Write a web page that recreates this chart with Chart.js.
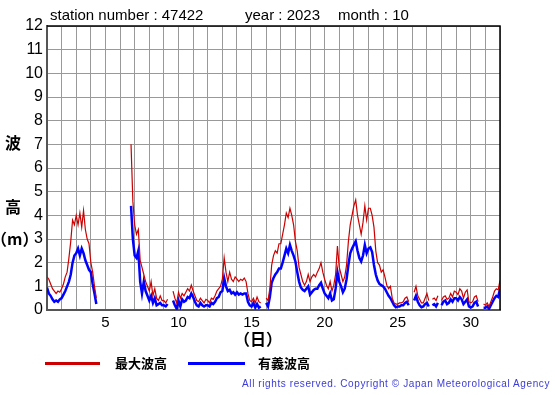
<!DOCTYPE html>
<html>
<head>
<meta charset="utf-8">
<script src="https://cdn.jsdelivr.net/npm/chart.js@4.4.0/dist/chart.umd.min.js"></script>
<style>
html, body { margin: 0; padding: 0; background: #fff; }
#wrap { position: relative; width: 555px; height: 395px; overflow: hidden; font-family: "Liberation Sans", Arial, sans-serif; }
#chart { position: absolute; left: 0; top: 0; }
.t { position: absolute; white-space: nowrap; color: #000; line-height: 1; }
.title { font-size: 15px; top: 7px; }
.jp { font-family: "Noto Sans CJK JP", sans-serif; font-weight: bold; font-size: 16px; }
.leg { font-family: "Noto Sans CJK JP", sans-serif; font-weight: bold; font-size: 13px; top: 356px; }
.swatch { position: absolute; height: 3px; top: 362px; }
#copy { right: 5px; top: 379px; font-size: 10px; letter-spacing: 0.6px; color: #3b3bd6; }
</style>
</head>
<body>
<div id="wrap">
  <canvas id="chart" width="555" height="395"></canvas>
  <div class="t title" style="left:50px">station number : 47422</div>
  <div class="t title" style="left:245px">year : 2023</div>
  <div class="t title" style="left:338px">month : 10</div>
  <div class="t jp" style="left:5px;top:134px">波</div>
  <div class="t jp" style="left:5px;top:198px">高</div>
  <div class="t jp" style="left:-9px;top:230px">（m）</div>
  <div class="t jp" style="left:234px;top:330px">（日）</div>
  <div class="swatch" style="left:45px;width:55px;background:#cc0000"></div>
  <div class="t leg" style="left:115px">最大波高</div>
  <div class="swatch" style="left:188px;width:57px;background:#0000ff"></div>
  <div class="t leg" style="left:258px">有義波高</div>
  <div class="t" id="copy">All rights reserved. Copyright © Japan Meteorological Agency</div>
</div>
<script>
// 3-hourly readings, one row per day (day 1 .. day 31, then 00h of day 32)
const stepsPerDay = 8;
const dayTicks = [5, 10, 15, 20, 25, 30];

// max wave height (m)
const maxWave = [
  1.4, 1.3, 1.1, 0.9, 0.8, 0.7, 0.8, 0.75,
  0.9, 1.1, 1.4, 1.6, 2.2, 2.9, 3.8, 3.6,
  4.0, 3.6, 4.1, 3.5, 4.2, 3.4, 3.0, 2.8,
  2.0, 1.6, 1.0, 0.5, null, null, null, null,
  null, null, null, null, null, null, null, null,
  null, null, null, null, null, null, 7.0, 4.6,
  3.6, 3.2, 3.4, 2.1, 1.8, 1.5, 1.2, 1.0,
  0.8, 1.2, 0.6, 0.9, 0.5, 0.4, 0.6, 0.4,
  0.4, 0.3, 0.45, null, null, 0.8, 0.5, 0.3,
  0.75, 0.5, 0.7, 0.6, 0.75, 0.9, 0.8, 1.05,
  0.8, 0.6, 0.4, 0.35, 0.5, 0.4, 0.3, 0.45,
  0.4, 0.3, 0.5, 0.45, 0.6, 0.8, 0.9, 1.0,
  1.3, 2.2, 1.6, 1.2, 1.6, 1.3, 1.2, 1.4,
  1.3, 1.2, 1.3, 1.25, 1.35, 1.2, 0.7, 0.4,
  0.35, 0.5, 0.3, 0.55, 0.35, 0.3, null, null,
  0.5, 0.4, 0.9, 1.9, 2.3, 2.5, 2.4, 2.8,
  2.8, 3.2, 3.6, 4.1, 3.9, 4.3, 4.0, 3.6,
  2.9, 2.5, 1.8, 1.5, 1.2, 1.05, 1.2, 1.5,
  1.2, 1.4, 1.5, 1.4, 1.6, 1.75, 2.0, 1.6,
  1.3, 1.05, 0.9, 1.2, 0.8, 1.05, 1.5, 2.7,
  1.8, 1.5, 1.2, 1.4, 1.9, 2.9, 3.6, 4.0,
  4.4, 4.65, 4.0, 3.6, 3.2, 3.7, 4.4, 3.8,
  4.3, 4.3, 4.0, 3.5, 2.5, 2.0, 1.9, 1.6,
  1.7, 1.4, 1.05, 0.9, 1.0, 0.5, 0.3, 0.25,
  0.25, 0.3, 0.3, 0.35, 0.5, 0.55, 0.35, null,
  null, 0.75, 1.0, 0.6, 0.45, 0.3, 0.3, 0.5,
  0.7, 0.4, null, 0.45, 0.5, 0.4, 0.6, null,
  0.4, 0.55, 0.6, 0.45, 0.5, 0.7, 0.55, 0.8,
  0.75, 0.65, 0.9, 0.8, 0.5, 0.75, 0.85, 0.35,
  0.3, 0.35, 0.55, 0.6, 0.35, null, null, 0.25,
  0.2, 0.3, 0.15, 0.35, 0.55, 0.8, 0.9, 0.85,
  1.25
];

// significant wave height (m)
const sigWave = [
  0.95, 0.7, 0.6, 0.45, 0.35, 0.4, 0.35, 0.45,
  0.5, 0.65, 0.8, 1.0, 1.2, 1.5, 2.0, 2.3,
  2.4, 2.6, 2.3, 2.6, 2.4, 2.1, 1.9, 1.7,
  1.6, 1.1, 0.7, 0.25, null, null, null, null,
  null, null, null, null, null, null, null, null,
  null, null, null, null, null, null, 4.4, 3.0,
  2.3, 2.2, 2.5, 1.2, 0.7, 1.2, 0.8, 0.6,
  0.4, 0.6, 0.3, 0.5, 0.2, 0.25, 0.3, 0.2,
  0.2, 0.15, 0.25, null, null, 0.4, 0.2, 0.05,
  0.4, 0.15, 0.45, 0.35, 0.4, 0.55, 0.5, 0.7,
  0.55, 0.35, 0.2, 0.15, 0.3, 0.2, 0.15, 0.2,
  0.2, 0.15, 0.3, 0.25, 0.35, 0.5, 0.55, 0.75,
  0.8, 1.35, 1.0, 0.8, 0.85, 0.7, 0.75, 0.65,
  0.75, 0.65, 0.7, 0.65, 0.7, 0.7, 0.35, 0.2,
  0.15, 0.3, 0.1, 0.25, 0.1, 0.15, null, null,
  0.3, 0.15, 0.55, 1.15, 1.35, 1.5, 1.6, 1.75,
  1.75, 2.0, 2.3, 2.6, 2.4, 2.75, 2.5, 2.3,
  2.05, 1.6, 1.2, 0.95, 0.85, 0.8, 0.9, 1.0,
  0.65, 0.75, 0.85, 0.9, 0.9, 1.05, 1.15, 0.9,
  0.7, 0.6, 0.5, 0.7, 0.4, 0.45, 0.9, 1.6,
  1.2, 1.0, 0.75, 0.9, 1.3, 1.9, 2.4, 2.6,
  2.75, 2.9, 2.5, 2.2, 2.05, 2.3, 2.75, 2.4,
  2.6, 2.65, 2.45, 1.9, 1.5, 1.25, 1.1, 1.05,
  1.0, 0.9, 0.75, 0.6, 0.5, 0.35, 0.2, 0.12,
  0.15, 0.15, 0.2, 0.2, 0.3, 0.35, 0.2, null,
  null, 0.4, 0.6, 0.35, 0.2, 0.12, 0.15, 0.25,
  0.3, 0.15, null, 0.2, 0.25, 0.15, 0.3, null,
  0.2, 0.35, 0.4, 0.25, 0.3, 0.45, 0.35, 0.5,
  0.5, 0.4, 0.55, 0.45, 0.25, 0.35, 0.45, 0.15,
  0.1, 0.15, 0.3, 0.35, 0.15, null, null, 0.1,
  0.1, 0.15, 0.05, 0.2, 0.35, 0.5, 0.6, 0.55,
  0.9
];

function toPoints(vals) {
  return vals.map((v, i) => ({ x: 1 + i / stepsPerDay, y: v }));
}

// black frame on top / right like the original plot box
const frame = {
  id: 'frame',
  afterDraw(chart) {
    const { ctx, chartArea: a } = chart;
    ctx.save();
    ctx.strokeStyle = '#000';
    ctx.lineWidth = 1.5;
    ctx.beginPath();
    ctx.moveTo(a.left, a.top);
    ctx.lineTo(a.right, a.top);
    ctx.lineTo(a.right, a.bottom);
    ctx.stroke();
    ctx.restore();
  }
};

new Chart(document.getElementById('chart').getContext('2d'), {
  type: 'line',
  data: {
    datasets: [
      { label: '最大波高', data: toPoints(maxWave), borderColor: '#cc0000', borderWidth: 1.2 },
      { label: '有義波高', data: toPoints(sigWave), borderColor: '#0000ff', borderWidth: 2.5 }
    ]
  },
  options: {
    responsive: false,
    animation: false,
    spanGaps: false,
    elements: { point: { radius: 0 }, line: { tension: 0 } },
    layout: { padding: { top: 26, right: 55, left: 0, bottom: 0 } },
    plugins: { legend: { display: false }, tooltip: { enabled: false } },
    scales: {
      x: {
        type: 'linear', min: 1, max: 32,
        afterFit: s => { s.height = 85; },
        grid: { color: '#999', lineWidth: 1, drawTicks: false },
        border: { color: '#555', width: 2 },
        ticks: {
          stepSize: 1, autoSkip: false, maxRotation: 0, padding: 4,
          color: '#000', font: { family: 'Liberation Sans', size: 15 },
          callback: v => dayTicks.includes(v) ? String(v) : ''
        }
      },
      y: {
        min: 0, max: 12,
        afterFit: s => { s.width = 47; },
        grid: { color: '#999', lineWidth: 1, drawTicks: false },
        border: { color: '#555', width: 2 },
        ticks: {
          stepSize: 1, padding: 4,
          color: '#000', font: { family: 'Liberation Sans', size: 16 }
        }
      }
    }
  },
  plugins: [frame]
});
</script>
</body>
</html>
